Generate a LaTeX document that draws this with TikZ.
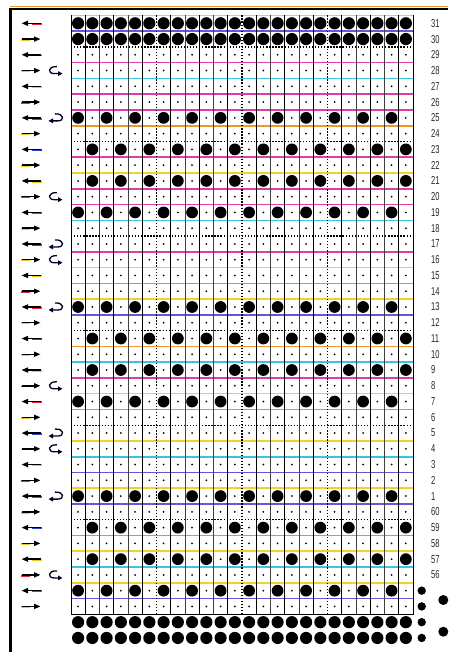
\documentclass[tikz,border=0pt]{standalone}
\usepackage{fontspec}
\newfontfamily\numfont[FakeStretch=0.66]{Liberation Sans}
\usetikzlibrary{arrows.meta}
\definecolor{lmag}{RGB}{225,60,170}
\definecolor{lcya}{RGB}{60,195,225}
\definecolor{lyel}{RGB}{240,210,40}
\definecolor{lora}{RGB}{240,150,40}
\definecolor{lblu}{RGB}{105,85,215}
\definecolor{tred}{RGB}{225,40,60}
\definecolor{tyel}{RGB}{240,200,30}
\definecolor{tblu}{RGB}{50,70,200}
\tikzset{
  gridline/.style={line width=1.6pt},
  vmajor/.style={black, line width=0.75pt},
  vminor/.style={black!75, line width=0.6pt},
  dotrule/.style={black, line width=1.3pt, dash pattern=on 1.3pt off 1.75pt},
  rowarrow/.style={black, line width=1.5pt, -{Triangle[length=6.5pt,width=5pt]}},
  arrowtail/.style={line width=1.9pt},
  hookarrow/.style={black!85!blue, line width=1.3pt, -{Triangle[length=4.5pt,width=4.6pt]}},
  rowlabel/.style={anchor=west, inner sep=0pt, text=black!85, font=\numfont\fontsize{11.5}{12}\selectfont},
}
\begin{document}
\begin{tikzpicture}[x=1pt,y=-1pt]
\useasboundingbox (0,0) rectangle (448,652);
\fill[white] (0,0) rectangle (448,652);

% card frame
\draw[lora, line width=1pt] (10,6.6) -- (448,6.6);
\draw[black, line width=1.8pt] (9.4,8.8) -- (448,8.8);
\draw[black, line width=2.2pt] (10.5,7.9) -- (10.5,652);

% coloured row rules
\draw[gridline,lyel] (71,15.4) -- (413,15.4);
\foreach \i/\c in {0/lblu,2/lmag,3/lcya,4/lmag,5/lmag,6/lora,8/lmag,9/lyel,10/lmag,11/lmag,12/lcya,14/lmag,15/lyel,16/lcya,17/lyel,18/lblu,20/lora,21/lcya,22/lmag,23/lyel,24/lcya,26/lyel,27/lcya,28/lblu,29/lyel,30/lblu,32/lcya,33/lyel,34/lcya,35/lyel,36/lblu}{
  \pgfmathsetmacro{\yy}{23.3+15.76*(\i+0.5)}
  \draw[gridline,\c] (71,\yy) -- (413,\yy);
}

% column rules
\foreach \k in {1,3,...,23}{
  \draw[vmajor] ({71+14.25*\k},15.4) -- ({71+14.25*\k},614.5);
}
\foreach \k in {2,4,8,10,14,16,20,22}{
  \draw[vminor] ({71+14.25*\k},15.4) -- ({71+14.25*\k},614.5);
}
\foreach \k in {6,12,18}{
  \draw[dotrule, line width=1.1pt] ({71+14.25*\k},15.4) -- ({71+14.25*\k},614.5);
}
\draw[black, line width=0.9pt] (71,15.4) -- (71,614.5) -- (413,614.5) -- (413,15.4);

% dotted rules every six rows
\foreach \i in {1,7,13,19,25,31}{
  \pgfmathsetmacro{\yy}{23.3+15.76*(\i+0.5)}
  \draw[dotrule] (71,\yy) -- (415,\yy);
}

% full rows of holes
\foreach \r in {0,1,38,39}{
  \pgfmathsetmacro{\yy}{23.3+15.76*\r}
  \foreach \c in {1,...,24}{
    \fill[black] ({78.1+14.25*(\c-1)},\yy) circle[radius=6.1pt];
  }
}

% pattern rows
\foreach \r in {2,...,37}{
  \pgfmathsetmacro{\yy}{23.3+15.76*\r}
  \pgfmathtruncatemacro{\m}{mod(\r+6,12)}
  \foreach \c in {1,...,24}{
    \pgfmathtruncatemacro{\pc}{mod(\c,2)}
    \pgfmathtruncatemacro{\h}{or(and(or(\m==0,\m==6),\pc==1),and(or(\m==2,\m==4),\pc==0))}
    \ifnum\h=1
      \fill[black] ({78.1+14.25*(\c-1)},\yy) circle[radius=5.9pt];
    \else
      \fill[black] ({78.1+14.25*(\c-1)},\yy) circle[radius=1pt];
    \fi
  }
}

% extra holes at the right
\foreach \r in {36,37,38,39}{
  \fill[black] (421.7,{23.3+15.76*\r}) circle[radius=4.2pt];
}
\fill[black] (443.3,600) circle[radius=5pt];
\fill[black] (443.3,631.7) circle[radius=5pt];

% direction arrows
\foreach \r in {0,...,37}{
  \pgfmathsetmacro{\yy}{23.3+15.76*\r}
  \pgfmathtruncatemacro{\cm}{mod(\r,6)}
  \pgfmathtruncatemacro{\adir}{mod(\r,2)}
  \edef\tc{\ifcase\cm tred\or tyel\or tblu\or tyel\or tyel\or tred\fi}
  \ifnum\adir=0
    \draw[arrowtail,\tc] (32,{\yy+0.7}) -- (41.5,{\yy+0.7});
    \draw[rowarrow] (40.5,\yy) -- (21.5,\yy);
  \else
    \draw[arrowtail,\tc] (20.5,{\yy+0.7}) -- (30,{\yy+0.7});
    \draw[rowarrow] (21.5,\yy) -- (40.5,\yy);
  \fi
}

% return hooks
\foreach \r in {3,11,15,23,27,35}{
  \pgfmathsetmacro{\yy}{23.3+15.76*\r}
  \draw[hookarrow] (57,{\yy-4}) .. controls (47.5,{\yy-4.5}) and (47.5,{\yy+3}) .. (54,{\yy+3}) -- (62.5,{\yy+3});
}
\foreach \r in {6,14,18,26,30}{
  \pgfmathsetmacro{\yy}{23.3+15.76*\r}
  \draw[hookarrow] (55,{\yy-4}) .. controls (64.5,{\yy-4.5}) and (64.5,{\yy+3}) .. (58,{\yy+3}) -- (48.5,{\yy+3});
}

% row numbers
\foreach \r in {0,...,35}{
  \pgfmathsetmacro{\yy}{23.3+15.76*\r}
  \pgfmathtruncatemacro{\lab}{\r<31 ? 31-\r : 91-\r}
  \node[rowlabel] (lab\r) at (431,\yy) {\lab};
}
\end{tikzpicture}
\end{document}
